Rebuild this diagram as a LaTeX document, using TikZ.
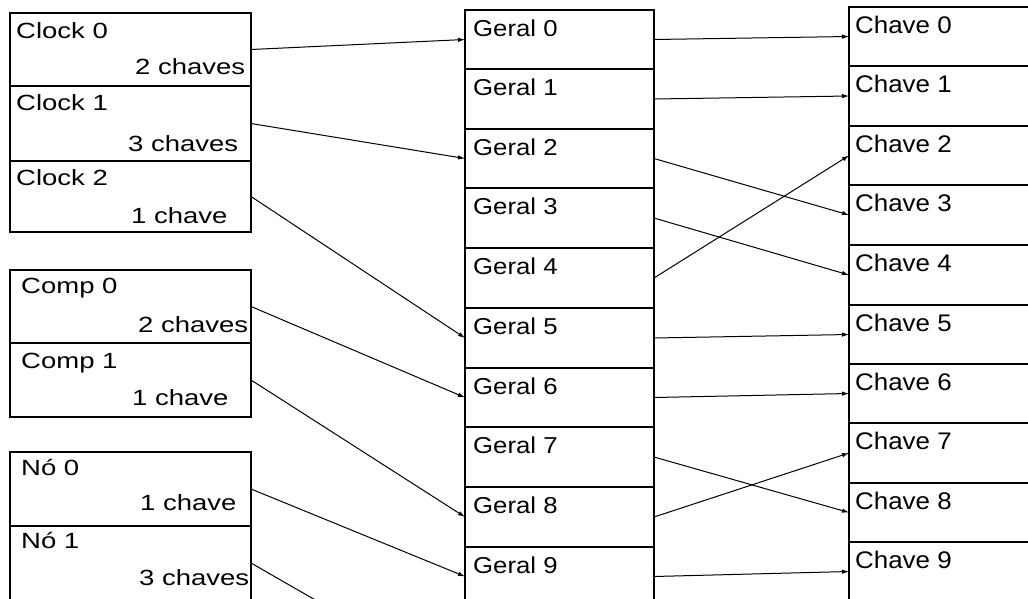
\documentclass[tikz,border=0pt]{standalone}
\usepackage{fontspec}
\setmainfont{Liberation Sans}
\newfontfamily\lfont{Liberation Sans}[FakeStretch=1.25]
\newfontfamily\mfont{Liberation Sans}[FakeStretch=1.12]
\newfontfamily\rfont{Liberation Sans}[FakeStretch=1.08]
\usetikzlibrary{arrows.meta}
\begin{document}
\begin{tikzpicture}[x=1pt,y=-1pt,
  box/.style={draw, line width=1.1pt, rectangle, inner sep=0pt, outer sep=0pt, anchor=north west},
  lbox/.style={box, minimum width=241pt},
  mbox/.style={box, minimum width=189pt},
  rbox/.style={box, minimum width=200pt},
  ltxt/.style={font=\lfont\fontsize{22}{26}\selectfont, inner sep=0pt, anchor=base west},
  mtxt/.style={font=\mfont\fontsize{23}{27}\selectfont, inner sep=0pt, anchor=base west},
  rtxt/.style={font=\rfont\fontsize{24}{28}\selectfont, inner sep=0pt, anchor=base west},
  conn/.style={line width=1pt, -{Latex[length=7pt,width=4.5pt]}}]
\useasboundingbox (0,0) rectangle (1028,598);
\clip (0,0) rectangle (1028,598);
\fill[white] (0,0) rectangle (1028,598);

% left column
\node[lbox, minimum height=73pt] (c0) at (10,13) {};
\node[lbox, minimum height=75pt] (c1) at (10,86) {};
\node[lbox, minimum height=71pt] (c2) at (10,161) {};
\node[lbox, minimum height=73pt] (p0) at (10,270) {};
\node[lbox, minimum height=74pt] (p1) at (10,343) {};
\node[lbox, minimum height=74pt] (n0) at (10,452) {};
\node[lbox, minimum height=74pt] (n1) at (10,526) {};

\node[ltxt] (c0a) at (16,38) {Clock 0};
\node[ltxt] (c0b) at (135,74) {2 chaves};
\node[ltxt] (c1a) at (16,110) {Clock 1};
\node[ltxt] (c1b) at (128,151) {3 chaves};
\node[ltxt] (c2a) at (16,185) {Clock 2};
\node[ltxt] (c2b) at (131,223) {1 chave};
\node[ltxt] (p0a) at (21,293) {Comp 0};
\node[ltxt] (p0b) at (138,332) {2 chaves};
\node[ltxt] (p1a) at (21,368) {Comp 1};
\node[ltxt] (p1b) at (132,405) {1 chave};
\node[ltxt] (n0a) at (21,475) {Nó 0};
\node[ltxt] (n0b) at (140,510) {1 chave};
\node[ltxt] (n1a) at (21,548) {Nó 1};
\node[ltxt] (n1b) at (139,585) {3 chaves};

% middle column
\foreach \i/\t/\h in {0/10/59, 1/69/60, 2/129/59, 3/188/60, 4/248/60,
                      5/308/60, 6/368/59, 7/427/60, 8/487/60, 9/547/59} {
  \node[mbox, minimum height=\h pt] (g\i) at (465,\t) {};
  \node[mtxt] (gt\i) at (473,\t+26) {Geral \i};
}
\coordinate (g10) at (465,686);

% right column
\foreach \i/\t/\h in {0/7/59, 1/66/60, 2/126/59, 3/185/60, 4/245/60,
                      5/305/59, 6/364/59, 7/423/60, 8/483/59, 9/542/59} {
  \node[rbox, minimum height=\h pt] (k\i) at (849,\t) {};
  \node[rtxt] (kt\i) at (855,\t+26) {Chave \i};
}

% connectors left -> middle
\draw[conn] (c0.east) -- (g0.west);
\draw[conn] (c1.east) -- (g2.west);
\draw[conn] (c2.east) -- (g5.west);
\draw[conn] (p0.east) -- (g6.west);
\draw[conn] (p1.east) -- (g8.west);
\draw[conn] (n0.east) -- (g9.west);
\draw[conn] (n1.east) -- (g10);

% connectors middle -> right
\draw[conn] (g0.east) -- (k0.west);
\draw[conn] (g1.east) -- (k1.west);
\draw[conn] (g2.east) -- (k3.west);
\draw[conn] (g3.east) -- (k4.west);
\draw[conn] (g4.east) -- (k2.west);
\draw[conn] (g5.east) -- (k5.west);
\draw[conn] (g6.east) -- (k6.west);
\draw[conn] (g7.east) -- (k8.west);
\draw[conn] (g8.east) -- (k7.west);
\draw[conn] (g9.east) -- (k9.west);
\end{tikzpicture}
\end{document}
